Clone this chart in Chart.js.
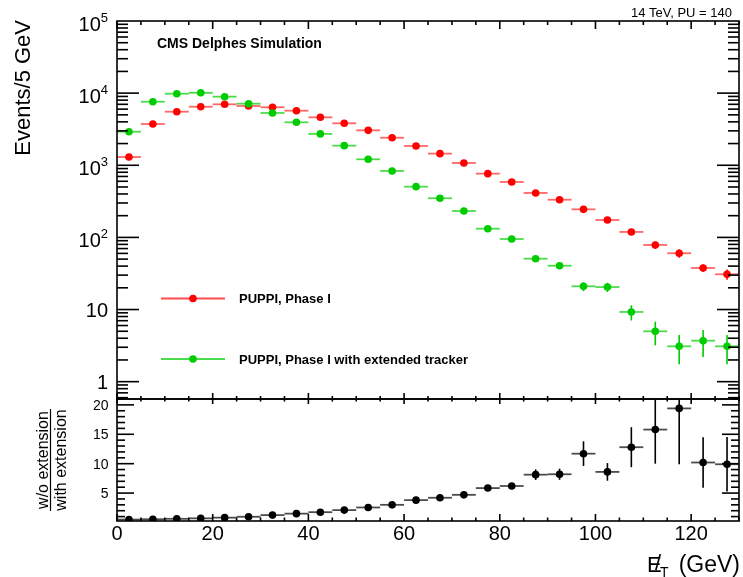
<!DOCTYPE html>
<html>
<head>
<meta charset="utf-8">
<script src="https://cdn.jsdelivr.net/npm/chart.js@4.4.1/dist/chart.umd.min.js"></script>
<style>
  html, body { margin: 0; padding: 0; background: #fff; }
  #wrap { width: 743px; height: 577px; }
</style>
</head>
<body>
<div id="wrap"><canvas id="c" width="743" height="577"></canvas></div>
<script>
// MET distribution, PUPPI Phase I with / without extended tracker
const binCenters = [2.5, 7.5, 12.5, 17.5, 22.5, 27.5, 32.5, 37.5, 42.5, 47.5, 52.5, 57.5, 62.5,
  67.5, 72.5, 77.5, 82.5, 87.5, 92.5, 97.5, 102.5, 107.5, 112.5, 117.5, 122.5, 127.5]
const binHalfWidth = 2.5

const seriesNames = ['PUPPI, Phase I', 'PUPPI, Phase I with extended tracker']

const phase1 = [1300, 3730, 5530, 6480, 7000, 6640, 6370, 5710, 4620, 3820, 3050, 2410, 1850,
  1450, 1076, 765, 587, 413, 333, 245, 174, 119, 78.5, 60.3, 37.7, 30.8]
const phase1Err = [36, 61, 74, 80, 84, 81, 80, 76, 68, 62, 55, 49, 43,
  38, 33, 28, 24, 20, 18, 16, 13, 11, 9, 8, 4.5, 5]

const extended = [2920, 7600, 9820, 10100, 8930, 7140, 5310, 3940, 2720, 1870, 1210, 833, 505,
  349, 232, 132, 95, 50.7, 40.5, 21, 20.5, 9.25, 4.99, 3.09, 3.7, 3.09]
const extendedErr = [38, 60, 70, 70, 66, 60, 51, 44, 36, 30, 24, 20, 16,
  13, 10, 8, 6.5, 4, 3.5, 3, 3, 2.2, 1.8, 1.35, 1.5, 1.35]

const ratio = [0.5, 0.55, 0.62, 0.7, 0.82, 0.97, 1.25, 1.5, 1.75, 2.1, 2.55, 3.0, 3.8,
  4.2, 4.7, 5.85, 6.2, 8.13, 8.2, 11.7, 8.6, 12.8, 15.8, 19.4, 10.2, 9.9]
const ratioErr = [0.02, 0.02, 0.02, 0.03, 0.03, 0.04, 0.05, 0.06, 0.08, 0.1, 0.13, 0.17, 0.24,
  0.3, 0.4, 0.45, 0.5, 0.9, 0.95, 2.1, 1.5, 3.4, 5.8, 9.5, 4.3, 4.65]

const xTickValues = [0, 20, 40, 60, 80, 100, 120]
const logTickValues = [1, 10, 100, 1000, 10000, 100000]
const logTickLabels = [['1', ''], ['10', ''], ['10', '2'], ['10', '3'], ['10', '4'], ['10', '5']]
const ratioTickValues = [5, 10, 15, 20]

const FONT = "'Liberation Sans', Arial, Helvetica, sans-serif"
const RED = '#ff0000'
const GREEN = '#00cc00'

const toPoints = ys => binCenters.map((x, i) => ({ x: x, y: ys[i] }))

// error bars + ROOT style frame, ticks and texts
const rootLook = {
  id: 'rootLook',
  beforeDatasetsDraw(chart) {
    const ctx = chart.ctx
    const xs = chart.scales.x
    const area = chart.chartArea
    chart.data.datasets.forEach(ds => {
      const ys = chart.scales[ds.yAxisID]
      ctx.save()
      ctx.beginPath()
      ctx.rect(area.left, ys.top, area.right - area.left, ys.bottom - ys.top)
      ctx.clip()
      ds.data.forEach((p, j) => {
        const px = xs.getPixelForValue(p.x)
        const py = ys.getPixelForValue(p.y)
        ctx.strokeStyle = ds.hColor
        ctx.lineWidth = 1.8
        ctx.beginPath()
        ctx.moveTo(xs.getPixelForValue(p.x - binHalfWidth), py)
        ctx.lineTo(xs.getPixelForValue(p.x + binHalfWidth), py)
        ctx.stroke()
        const e = ds.errors[j]
        const lo = Math.max(p.y - e, ys.min)
        ctx.strokeStyle = ds.pointBackgroundColor
        ctx.lineWidth = 1.6
        ctx.beginPath()
        ctx.moveTo(px, ys.getPixelForValue(lo))
        ctx.lineTo(px, ys.getPixelForValue(p.y + e))
        ctx.stroke()
      })
      ctx.restore()
    })
  },
  afterDraw(chart) {
    const ctx = chart.ctx
    const xs = chart.scales.x
    const yt = chart.scales.y
    const yr = chart.scales.yr
    const L = chart.chartArea.left
    const R = chart.chartArea.right
    ctx.save()
    ctx.strokeStyle = '#000'
    ctx.fillStyle = '#000'
    ctx.lineWidth = 1.6

    const line = (x1, y1, x2, y2) => {
      ctx.beginPath(); ctx.moveTo(x1, y1); ctx.lineTo(x2, y2); ctx.stroke()
    }
    // frames
    ctx.strokeRect(L, yt.top, R - L, yt.bottom - yt.top)
    ctx.strokeRect(L, yr.top, R - L, yr.bottom - yr.top)

    // x ticks on both panels
    const xTicks = (yEdge, dir, maj, min) => {
      for (let v = 0; v <= 130; v += 5) {
        const px = xs.getPixelForValue(v)
        line(px, yEdge, px, yEdge + dir * (v % 20 === 0 ? maj : min))
      }
    }
    xTicks(yt.top, 1, 8, 4)
    xTicks(yt.bottom, -1, 6, 3)
    xTicks(yr.top, 1, 5, 2.5)
    xTicks(yr.bottom, -1, 7, 3.5)

    // log ticks, top panel
    for (let d = -1; d <= 4; d++) {
      for (let m = 1; m <= 9; m++) {
        const v = m * Math.pow(10, d)
        if (v < yt.min || v > yt.max) continue
        const py = yt.getPixelForValue(v)
        const len = m === 1 ? 22 : 11
        line(L, py, L + len, py)
        line(R, py, R - len, py)
      }
    }
    // linear ticks, ratio panel
    for (let v = 1; v <= 21; v++) {
      const py = yr.getPixelForValue(v)
      const len = v % 5 === 0 ? 17 : 8
      line(L, py, L + len, py)
      line(R, py, R - len, py)
    }

    // tick labels
    ctx.textBaseline = 'alphabetic'
    ctx.textAlign = 'center'
    ctx.font = '20px ' + FONT
    xTickValues.forEach(v => ctx.fillText(String(v), xs.getPixelForValue(v), 539.5))

    ctx.textAlign = 'right'
    ctx.font = '14px ' + FONT
    ratioTickValues.forEach(v => ctx.fillText(String(v), 108.5, yr.getPixelForValue(v) + 5))

    logTickValues.forEach((v, i) => {
      const py = yt.getPixelForValue(v)
      const [base, exp] = logTickLabels[i]
      if (!exp) {
        ctx.font = '20px ' + FONT
        ctx.textAlign = 'right'
        ctx.fillText(base, 108, py + 7)
      } else {
        ctx.font = '13px ' + FONT
        ctx.textAlign = 'right'
        const ew = ctx.measureText(exp).width
        ctx.fillText(exp, 108, py + 1)
        ctx.font = '20px ' + FONT
        ctx.fillText(base, 108 - ew, py + 10)
      }
    })

    // axis titles
    ctx.save()
    ctx.font = '22px ' + FONT
    ctx.translate(30, 20)
    ctx.rotate(-Math.PI / 2)
    ctx.textAlign = 'right'
    ctx.fillText('Events/5 GeV', 0, 0)
    ctx.restore()

    const rc = (yr.top + yr.bottom) / 2
    ctx.save()
    ctx.font = '16px ' + FONT
    ctx.textAlign = 'center'
    ctx.translate(48, rc)
    ctx.rotate(-Math.PI / 2)
    ctx.fillText('w/o extension', 0, 0)
    ctx.fillText('with extension', 0, 18)
    ctx.lineWidth = 1.2
    line(-51, 2.5, 51, 2.5)
    ctx.restore()

    // E_T miss label
    ctx.textAlign = 'left'
    ctx.font = '23px ' + FONT
    const gev = '(GeV)'
    const gw = ctx.measureText(gev).width
    ctx.fillText(gev, 740 - gw, 572)
    const ex = 647
    ctx.font = '22px ' + FONT
    ctx.fillText('E', ex, 572)
    ctx.fillText('/', ex + 8, 570)
    ctx.font = '14px ' + FONT
    ctx.fillText('T', ex + 13, 577)

    // labels in pad
    ctx.font = 'bold 14px ' + FONT
    ctx.fillText('CMS Delphes Simulation', 157, 48)
    ctx.font = '13px ' + FONT
    ctx.textAlign = 'right'
    ctx.fillText('14 TeV, PU = 140', 732, 16.5)

    // legend
    const legendRows = [[RED, 298.5], [GREEN, 359]]
    legendRows.forEach(([col, ly], i) => {
      ctx.strokeStyle = col
      ctx.globalAlpha = 0.7
      ctx.lineWidth = 2
      line(161, ly, 225, ly)
      ctx.globalAlpha = 1
      ctx.fillStyle = col
      ctx.beginPath(); ctx.arc(193, ly, 3.8, 0, Math.PI * 2); ctx.fill()
      ctx.fillStyle = '#000'
      ctx.font = 'bold 13px ' + FONT
      ctx.textAlign = 'left'
      ctx.fillText(seriesNames[i], 239, ly + 4.5)
    })
    ctx.restore()
  }
}

new Chart(document.getElementById('c'), {
  type: 'scatter',
  data: {
    datasets: [
      {
        label: seriesNames[1],
        data: toPoints(extended),
        errors: extendedErr,
        hColor: 'rgba(0, 204, 0, 0.7)',
        yAxisID: 'y',
        order: 1,
        pointRadius: 3.8,
        pointBorderWidth: 0,
        pointBackgroundColor: GREEN,
        borderColor: GREEN
      },
      {
        label: seriesNames[0],
        data: toPoints(phase1),
        errors: phase1Err,
        hColor: 'rgba(255, 0, 0, 0.6)',
        yAxisID: 'y',
        order: 2,
        pointRadius: 3.8,
        pointBorderWidth: 0,
        pointBackgroundColor: RED,
        borderColor: RED
      },
      {
        label: 'ratio',
        data: toPoints(ratio),
        errors: ratioErr,
        hColor: 'rgba(0, 0, 0, 0.7)',
        yAxisID: 'yr',
        order: 3,
        pointRadius: 3.8,
        pointBorderWidth: 0,
        pointBackgroundColor: '#000',
        borderColor: '#000'
      }
    ]
  },
  options: {
    responsive: false,
    animation: false,
    devicePixelRatio: 1,
    layout: { padding: { top: 21, right: 3, left: 0, bottom: 0 } },
    plugins: { legend: { display: false }, tooltip: { enabled: false } },
    scales: {
      x: {
        type: 'linear', min: 0, max: 130,
        ticks: { display: false }, grid: { display: false }, border: { display: false },
        afterFit: s => { s.height = 56 }
      },
      y: {
        type: 'logarithmic', min: 0.575, max: 100000,
        position: 'left', stack: 'pads', stackWeight: 378, weight: 2,
        ticks: { display: false }, grid: { display: false }, border: { display: false },
        afterFit: s => { s.width = 117 }
      },
      yr: {
        type: 'linear', min: 0.25, max: 21,
        position: 'left', stack: 'pads', stackWeight: 122, weight: 1,
        ticks: { display: false }, grid: { display: false }, border: { display: false },
        afterFit: s => { s.width = 117 }
      }
    }
  },
  plugins: [rootLook]
})
</script>
</body>
</html>
